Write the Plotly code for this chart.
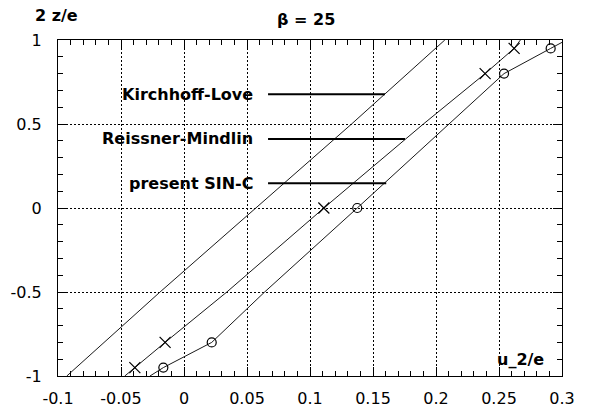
import plotly.graph_objects as go

# ---- data ----
kl_x = [-0.093, -0.019, 0.057, 0.133, 0.207]
kl_y = [-1.0, -0.5, 0.0, 0.5, 1.0]

rm_x = [-0.047, -0.039, -0.015, 0.034, 0.111, 0.190, 0.239, 0.262, 0.267]
rm_y = [-1.0, -0.95, -0.8, -0.5, 0.0, 0.5, 0.8, 0.95, 1.0]

sin_x = [-0.027, -0.0164, 0.022, 0.064, 0.1375, 0.210, 0.254, 0.291, 0.3035]
sin_y = [-1.0, -0.95, -0.8, -0.5, 0.0, 0.5, 0.8, 0.95, 1.0]

rm_mark_x = [-0.039, -0.015, 0.111, 0.239, 0.262]
rm_mark_y = [-0.95, -0.8, 0.0, 0.8, 0.95]
sin_mark_x = [-0.0164, 0.022, 0.1375, 0.254, 0.291]
sin_mark_y = [-0.95, -0.8, 0.0, 0.8, 0.95]

labels = ["Kirchhoff-Love", "Reissner-Mindlin", "present SIN-C"]
label_y = [0.677, 0.411, 0.147]
leader_x0 = 0.0667
leader_x1 = [0.1595, 0.1754, 0.1605]
label_x = 0.0563

x_range = [-0.1, 0.3]
y_range = [-1, 1]
x_ticks = [-0.1, -0.05, 0, 0.05, 0.1, 0.15, 0.2, 0.25, 0.3]
x_ticktext = ["-0.1", "-0.05", "0", "0.05", "0.1", "0.15", "0.2", "0.25", "0.3"]
y_ticks = [-1, -0.5, 0, 0.5, 1]
y_ticktext = ["-1", "-0.5", "0", "0.5", "1"]
x_minor_step = 0.01
y_minor_step = 0.1

LINE = "#1a1a1a"
fig = go.Figure()
for xs, ys in [(kl_x, kl_y), (rm_x, rm_y), (sin_x, sin_y)]:
    fig.add_trace(go.Scatter(x=xs, y=ys, mode="lines",
                             line=dict(color=LINE, width=1), showlegend=False))
fig.add_trace(go.Scatter(x=rm_mark_x, y=rm_mark_y, mode="markers",
                         marker=dict(symbol="x-thin-open", size=11, color="black",
                                     line=dict(color="black", width=1.2)),
                         showlegend=False))
fig.add_trace(go.Scatter(x=sin_mark_x, y=sin_mark_y, mode="markers",
                         marker=dict(symbol="circle-open", size=9, color="black",
                                     line=dict(color="black", width=1.2)),
                         showlegend=False))
for lab, ly, x1 in zip(labels, label_y, leader_x1):
    fig.add_trace(go.Scatter(x=[leader_x0, x1], y=[ly, ly], mode="lines",
                             line=dict(color="black", width=2), showlegend=False))
    fig.add_annotation(x=label_x, y=ly, text=lab, showarrow=False,
                       xanchor="right", yanchor="middle",
                       font=dict(family="DejaVu Sans", size=16, color="black",
                                 weight="bold"))

axis_common = dict(
    showline=True, linecolor="black", linewidth=1, mirror="ticks",
    ticks="inside", ticklen=9, tickcolor="black", tickwidth=1,
    showgrid=True, gridcolor="black", griddash="2px,2px", gridwidth=1,
    zeroline=False, automargin=False,
    tickfont=dict(family="DejaVu Sans", size=16, color="black"),
)
minor_common = dict(
    showline=True, linecolor="black", linewidth=1, mirror="ticks",
    ticks="inside", ticklen=5, tickcolor="black", tickwidth=1,
    showgrid=False, zeroline=False,
    showticklabels=False, automargin=False, tickmode="linear",
)
fig.update_layout(
    xaxis=dict(range=x_range, tickmode="array", tickvals=x_ticks,
               ticktext=x_ticktext, ticklabelstandoff=8, **axis_common),
    yaxis=dict(range=y_range, tickmode="array", tickvals=y_ticks,
               ticktext=y_ticktext, ticklabelstandoff=12, **axis_common),
    xaxis2=dict(overlaying="x", side="bottom", range=x_range,
                tick0=x_range[0], dtick=x_minor_step, **minor_common),
    yaxis2=dict(overlaying="y", side="left", range=y_range,
                tick0=y_range[0], dtick=y_minor_step, **minor_common),
)
# invisible trace to activate the minor-tick axes
fig.add_trace(go.Scatter(x=[x_range[0]], y=[y_range[0]], xaxis="x2", yaxis="y2",
                         mode="markers", marker=dict(opacity=0),
                         showlegend=False, hoverinfo="skip"))

bold = dict(family="DejaVu Sans", size=16, color="black", weight="bold")
fig.add_annotation(xref="paper", yref="paper", x=0.492, y=1.06, text="β = 25",
                   showarrow=False, xanchor="center", yanchor="middle", font=bold)
fig.add_annotation(xref="paper", yref="paper", x=-0.05, y=1.074, text="2 z/e",
                   showarrow=False, xanchor="left", yanchor="middle", font=bold)
fig.add_annotation(xref="paper", yref="paper", x=0.867, y=0.05, text="u_2/e",
                   showarrow=False, xanchor="left", yanchor="middle", font=bold)

fig.update_layout(width=590, height=412,
                  margin=dict(l=58, r=28, t=40, b=36),
                  plot_bgcolor="white", paper_bgcolor="white")
fig.write_html("out.html")
